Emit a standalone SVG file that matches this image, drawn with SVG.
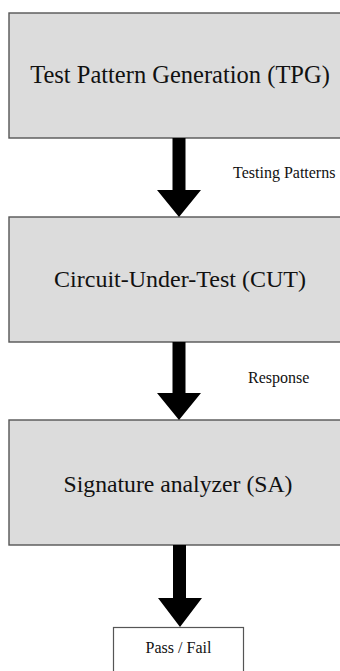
<svg xmlns="http://www.w3.org/2000/svg" width="340" height="671" viewBox="0 0 340 671">
  <defs>
    <style>
      .stage { fill: #dcdcdc; stroke: #555555; stroke-width: 1.4; }
      .result { fill: #ffffff; stroke: #555555; stroke-width: 1.2; }
      .big { font-family: "Liberation Serif", "Times New Roman", serif; font-size: 24px; fill: #111111; text-anchor: middle; }
      .small { font-family: "Liberation Serif", "Times New Roman", serif; font-size: 16px; fill: #111111; }
      .flow { fill: #000000; }
    </style>
  </defs>
  <rect width="340" height="671" fill="#ffffff"/>

  <g id="tpg">
    <rect class="stage" x="9" y="13" width="340" height="125"/>
    <text class="big" x="180" y="83" style="font-size:24.5px">Test Pattern Generation (TPG)</text>
  </g>

  <g id="cut">
    <rect class="stage" x="9" y="217" width="340" height="125"/>
    <text class="big" x="180" y="287">Circuit-Under-Test (CUT)</text>
  </g>

  <g id="sa">
    <rect class="stage" x="9" y="420" width="340" height="125"/>
    <text class="big" x="178" y="492" style="font-size:23.7px">Signature analyzer (SA)</text>
  </g>

  <g id="passfail">
    <rect class="result" x="113.5" y="627.5" width="130" height="60"/>
    <text class="small" x="178.5" y="653" text-anchor="middle">Pass / Fail</text>
  </g>

  <g id="connectors">
    <polygon class="flow" points="172.5,138 185.5,138 185.5,190 201,190 179,217 157,190 172.5,190"/>
    <text class="small" x="233" y="178">Testing Patterns</text>
    <polygon class="flow" points="172.5,342 185.5,342 185.5,393 201,393 179,420 157,393 172.5,393"/>
    <text class="small" x="248" y="383">Response</text>
    <polygon class="flow" points="173,545 186,545 186,598 202,598 180,627 158,598 173,598"/>
  </g>
</svg>
